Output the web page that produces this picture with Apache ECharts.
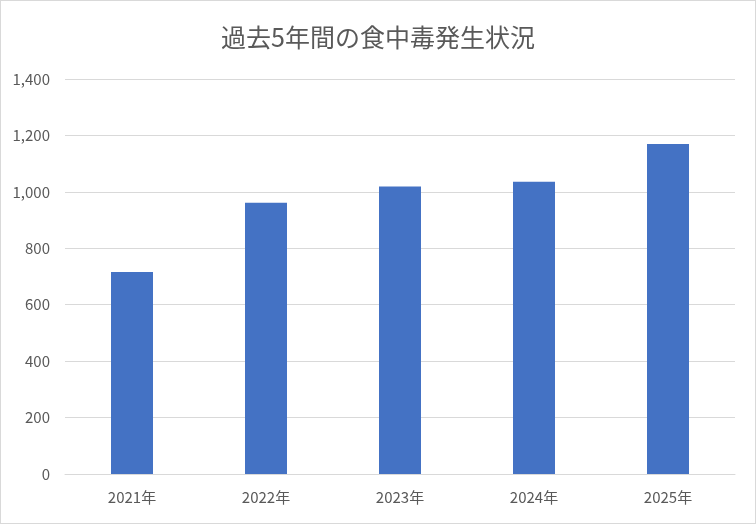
<!DOCTYPE html>
<html>
<head>
<meta charset="utf-8">
<script src="https://cdn.jsdelivr.net/npm/echarts@6/dist/echarts.min.js"></script>
<style>
html,body{margin:0;padding:0;background:#fff;}
#wrap{position:absolute;left:0;top:0;width:754px;height:522px;border:1px solid #d9d9d9;}
#chart{width:754px;height:522px;}
</style>
</head>
<body>
<div id="wrap"><div id="chart"></div></div>
<script>
const title = '過去5年間の食中毒発生状況';
const categories = ['2021年', '2022年', '2023年', '2024年', '2025年'];
const values = [716, 961, 1019, 1036, 1170];
const yTicks = [0, 200, 400, 600, 800, 1000, 1200, 1400];

const chart = echarts.init(document.getElementById('chart'));
const font = '"Noto Sans CJK JP", "Noto Sans", sans-serif';
chart.setOption({
  animation: false,
  textStyle: {fontFamily: font},
  title: {
    text: title,
    left: 'center',
    top: 19,
    textStyle: {fontFamily: font, fontSize: 25, fontWeight: 'normal', color: '#595959'}
  },
  grid: {left: 64, right: 20, top: 78, bottom: 49, containLabel: false},
  xAxis: {
    type: 'category',
    data: categories,
    axisLine: {lineStyle: {color: '#d9d9d9', width: 1}},
    axisTick: {show: false},
    axisLabel: {color: '#595959', fontSize: 15, margin: 16, fontFamily: font}
  },
  yAxis: {
    type: 'value',
    min: yTicks[0],
    max: yTicks[yTicks.length - 1],
    interval: 200,
    axisLine: {show: false},
    axisTick: {show: false},
    splitLine: {lineStyle: {color: '#d9d9d9', width: 1}},
    axisLabel: {
      color: '#595959', fontSize: 15, margin: 15, fontFamily: font,
      formatter: v => v.toLocaleString('en-US')
    }
  },
  series: [{
    type: 'bar',
    data: values,
    barWidth: 42,
    itemStyle: {color: '#4472c4'}
  }]
});
</script>
</body>
</html>
